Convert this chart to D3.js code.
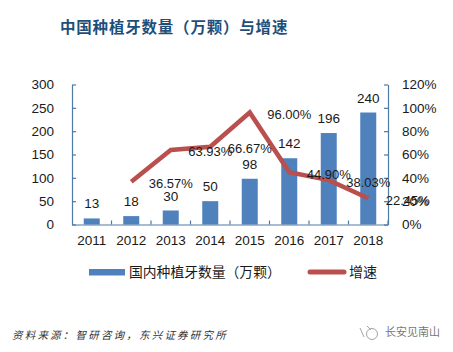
<!DOCTYPE html>
<html>
<head>
<meta charset="utf-8">
<script src="https://cdn.jsdelivr.net/npm/d3@7/dist/d3.min.js"></script>
<style>
  html, body { margin: 0; padding: 0; background: #fff; }
  text { font-family: "Liberation Sans", "Noto Sans CJK SC", sans-serif; fill: #1a1a1a; }
</style>
</head>
<body>
<div id="chart"></div>
<script>
const years = ["2011", "2012", "2013", "2014", "2015", "2016", "2017", "2018"];
const implants = [13, 18, 30, 50, 98, 142, 196, 240];
const growthYears = ["2012", "2013", "2014", "2015", "2016", "2017", "2018"];
const growth = [36.57, 63.93, 66.67, 96.00, 44.90, 38.03, 22.45];
const leftTicks = [0, 50, 100, 150, 200, 250, 300];
const rightTicks = [0, 20, 40, 60, 80, 100, 120];

const width = 453, height = 352;
const axisColor = "#4d7aa6", barColor = "#4f81bd", lineColor = "#b9504e";
const cjk = '"Noto Sans CJK SC", sans-serif';

const svg = d3.select("#chart").append("svg")
  .attr("width", width)
  .attr("height", height)
  .style("display", "block");

const x = d3.scaleBand().domain(years).range([72, 388]);
const yLeft = d3.scaleLinear().domain([0, 300]).range([224.5, 84.5]);
const yRight = d3.scaleLinear().domain([0, 120]).range([224.5, 84.5]);
const cx = d => x(d) + x.bandwidth() / 2;

// Title
svg.append("text")
  .attr("x", 60).attr("y", 33)
  .attr("font-size", 15.5)
  .attr("font-weight", "bold")
  .style("font-family", cjk)
  .style("fill", "#1f4e79")
  .style("letter-spacing", "0.8px")
  .text("中国种植牙数量（万颗）与增速");

// Bars
svg.append("g").selectAll("rect")
  .data(implants)
  .enter()
  .append("rect")
  .attr("x", (d, i) => cx(years[i]) - 8)
  .attr("y", d => yLeft(d))
  .attr("width", 16)
  .attr("height", d => yLeft(0) - yLeft(d))
  .attr("fill", barColor);

// Axes
function styleAxis(g) {
  g.selectAll(".domain").attr("stroke", axisColor).attr("stroke-width", 1.2);
  g.selectAll(".tick line").attr("stroke", axisColor).attr("stroke-width", 1.2);
  g.selectAll("text").attr("font-size", 13.5).style("fill", "#1a1a1a");
}

const leftAxis = svg.append("g")
  .attr("transform", "translate(72,0)")
  .call(d3.axisLeft(yLeft).tickValues(leftTicks).tickSizeInner(-4).tickSizeOuter(0).tickPadding(18))
  .call(styleAxis);

const rightAxis = svg.append("g")
  .attr("transform", "translate(388,0)")
  .call(d3.axisRight(yRight).tickValues(rightTicks).tickFormat(d => d + "%").tickSizeInner(-4).tickSizeOuter(0).tickPadding(14))
  .call(styleAxis);

const bottomAxis = svg.append("g")
  .attr("transform", "translate(0,224.5)")
  .call(d3.axisBottom(x).tickSize(0).tickPadding(11))
  .call(styleAxis);

// Category separators on the x axis
bottomAxis.selectAll(".sep")
  .data(years)
  .enter()
  .append("line")
  .attr("class", "sep")
  .attr("x1", d => x(d) + x.bandwidth())
  .attr("x2", d => x(d) + x.bandwidth())
  .attr("y1", 0)
  .attr("y2", -4)
  .attr("stroke", axisColor)
  .attr("stroke-width", 1.2);

// Growth line
const line = d3.line()
  .x((d, i) => cx(growthYears[i]))
  .y(d => yRight(d));

svg.append("path")
  .datum(growth)
  .attr("d", line)
  .attr("fill", "none")
  .attr("stroke", lineColor)
  .attr("stroke-width", 4.5)
  .attr("stroke-linejoin", "miter");

// Bar labels
svg.append("g").selectAll("text")
  .data(implants)
  .enter()
  .append("text")
  .attr("x", (d, i) => cx(years[i]))
  .attr("y", d => yLeft(d) - 10)
  .attr("text-anchor", "middle")
  .attr("font-size", 13.5)
  .text(d => d);

// Growth labels sit one category to the right of their points
svg.append("g").selectAll("text")
  .data(growth)
  .enter()
  .append("text")
  .attr("x", (d, i) => cx(growthYears[i]) + x.step())
  .attr("y", d => yRight(d) + 6.5)
  .attr("text-anchor", "middle")
  .attr("font-size", 13)
  .text(d => d.toFixed(2) + "%");

// Legend
svg.append("rect")
  .attr("x", 89).attr("y", 269)
  .attr("width", 36).attr("height", 6.5)
  .attr("fill", barColor);
svg.append("text")
  .attr("x", 129).attr("y", 277)
  .attr("font-size", 13.8)
  .style("font-family", cjk)
  .text("国内种植牙数量（万颗）");
svg.append("line")
  .attr("x1", 310).attr("x2", 344)
  .attr("y1", 272).attr("y2", 272)
  .attr("stroke", lineColor)
  .attr("stroke-width", 5)
  .attr("stroke-linecap", "round");
svg.append("text")
  .attr("x", 349).attr("y", 277)
  .attr("font-size", 14)
  .style("font-family", cjk)
  .text("增速");

// Source note
svg.append("text")
  .attr("x", 12).attr("y", 339)
  .attr("font-size", 10.5)
  .attr("font-style", "italic")
  .style("font-family", cjk)
  .style("fill", "#333")
  .style("letter-spacing", "2.2px")
  .text("资料来源：智研咨询，东兴证券研究所");

// Watermark
const mark = svg.append("g")
  .attr("fill", "none")
  .attr("stroke", "#9a9a9a")
  .attr("stroke-width", 0.9);
mark.append("circle").attr("cx", 372).attr("cy", 334).attr("r", 5.5);
mark.append("path").attr("d", "M360 328 L364 337 M367 326 L371 330");
svg.append("text")
  .attr("x", 385).attr("y", 336)
  .attr("font-size", 11)
  .style("font-family", cjk)
  .style("fill", "#777")
  .text("长安见南山");
</script>
</body>
</html>
